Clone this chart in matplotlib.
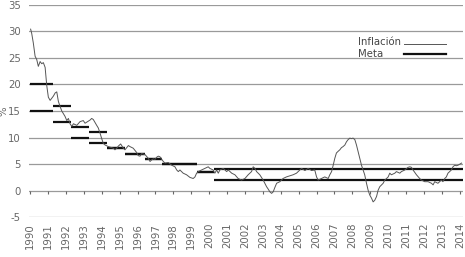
import matplotlib
matplotlib.use("Agg")
import matplotlib.pyplot as plt

plt.rcParams["font.family"] = ["DejaVu Sans"]

# inflation (12-month, %)
infl_year = [
    1990.03, 1990.09, 1990.18, 1990.28, 1990.37, 1990.46, 1990.56, 1990.65, 1990.74, 1990.84,
    1990.93, 1991.02, 1991.12, 1991.21, 1991.30, 1991.40, 1991.49, 1991.58, 1991.67, 1991.77,
    1991.86, 1991.95, 1992.05, 1992.14, 1992.23, 1992.33, 1992.42, 1992.61, 1992.79, 1992.97,
    1993.07, 1993.16, 1993.35, 1993.44, 1993.53, 1993.63, 1993.72, 1993.81, 1993.91, 1994.00,
    1994.09, 1994.19, 1994.37, 1994.46, 1994.65, 1994.74, 1994.84, 1994.93, 1995.06, 1995.21,
    1995.30, 1995.49, 1995.58, 1995.76, 1995.95, 1996.04, 1996.14, 1996.23, 1996.42, 1996.60,
    1996.70, 1996.79, 1996.88, 1996.98, 1997.07, 1997.16, 1997.25, 1997.44, 1997.53, 1997.72,
    1997.91, 1998.09, 1998.19, 1998.28, 1998.37, 1998.55, 1998.74, 1998.93, 1999.11, 1999.21,
    1999.30, 1999.39, 1999.58, 1999.77, 1999.95, 2000.04, 2000.23, 2000.32, 2000.42, 2000.51,
    2000.60, 2000.79, 2000.98, 2001.07, 2001.26, 2001.44, 2001.62, 2001.81, 2002.00, 2002.18,
    2002.37, 2002.46, 2002.56, 2002.65, 2002.83, 2003.02, 2003.11, 2003.21, 2003.30, 2003.39,
    2003.49, 2003.58, 2003.67, 2003.77, 2003.95, 2004.13, 2004.32, 2004.51, 2004.69, 2004.88,
    2005.07, 2005.16, 2005.35, 2005.53, 2005.72, 2005.90, 2006.00, 2006.09, 2006.28, 2006.46,
    2006.65, 2006.74, 2006.84, 2006.93, 2007.02, 2007.11, 2007.20, 2007.30, 2007.39, 2007.48,
    2007.58, 2007.67, 2007.76, 2007.86, 2007.95, 2008.04, 2008.14, 2008.23, 2008.32, 2008.42,
    2008.51, 2008.60, 2008.69, 2008.79, 2008.88, 2008.97, 2009.07, 2009.16, 2009.25, 2009.35,
    2009.44, 2009.53, 2009.63, 2009.72, 2009.81, 2009.91, 2010.00, 2010.09, 2010.18, 2010.37,
    2010.46, 2010.65, 2010.74, 2010.93, 2011.11, 2011.21, 2011.30, 2011.39, 2011.58, 2011.76,
    2011.86, 2012.04, 2012.23, 2012.42, 2012.51, 2012.60, 2012.78, 2012.97, 2013.06, 2013.16,
    2013.25, 2013.34, 2013.53, 2013.62, 2013.72, 2013.81, 2013.90, 2014.00, 2014.10,
]
infl_value = [
    30.4, 29.6, 27.8, 25.3, 24.7, 23.4, 24.3, 23.9, 24.1, 23.2,
    19.8, 17.6, 17.0, 17.4, 17.8, 18.4, 18.6, 16.8, 15.9, 15.0,
    14.5, 14.0, 13.2, 13.6, 12.6, 12.1, 12.6, 12.3, 13.0, 13.2,
    12.7, 12.9, 13.3, 13.6, 13.4, 12.8, 12.3, 11.8, 10.8, 9.8,
    8.9, 8.6, 8.3, 8.2, 8.0, 7.7, 8.0, 8.4, 8.8, 8.0,
    7.7, 8.5, 8.3, 8.0, 7.2, 6.6, 6.5, 7.0, 6.8, 6.1,
    5.5, 5.8, 6.0, 5.9, 6.3, 6.5, 6.4, 5.5, 5.2, 5.3,
    4.8, 4.5, 3.9, 3.6, 3.9, 3.3, 3.0, 2.5, 2.3, 2.6,
    3.3, 3.6, 3.9, 4.2, 4.5, 4.2, 3.9, 3.3, 3.9, 3.3,
    3.9, 4.2, 3.6, 3.9, 3.3, 3.0, 2.3, 2.0, 2.3, 3.0,
    3.6, 4.5, 4.2, 3.6, 3.0, 2.0, 1.4, 0.75, 0.3, -0.2,
    -0.5, -0.2, 0.6, 1.4, 1.7, 2.3, 2.6, 2.8, 3.0, 3.3,
    3.9, 4.2, 3.8, 4.2, 3.8, 3.9, 2.6, 2.0, 2.3, 2.6,
    2.3, 3.0, 3.6, 4.8, 6.1, 7.1, 7.4, 7.7, 8.1, 8.3,
    8.6, 9.2, 9.6, 9.9, 9.8, 9.9, 9.6, 8.6, 7.4, 6.1,
    4.8, 3.9, 3.0, 1.4, 0.1, -0.8, -1.4, -2.1, -1.8, -1.1,
    0.1, 0.75, 1.1, 1.4, 2.0, 2.3, 2.6, 3.3, 3.0, 3.3,
    3.6, 3.3, 3.6, 3.9, 4.4, 4.5, 4.4, 3.9, 3.0, 2.3,
    2.0, 1.7, 1.7, 1.4, 1.1, 1.7, 1.4, 2.0, 1.7, 2.3,
    2.6, 3.3, 3.9, 4.5, 4.8, 4.7, 4.8, 5.0, 5.2,
]

# inflation targets (Meta): each period has a lower and upper value
meta_start = [1990.0, 1991.3, 1992.3, 1993.3, 1994.3, 1995.3, 1996.4, 1997.35, 1999.3, 2000.3]
meta_end = [1991.3, 1992.3, 1993.3, 1994.3, 1995.3, 1996.4, 1997.35, 1999.3, 2000.3, 2014.17]
meta_low = [15, 13, 10, 9, 8, 7, 6, 5, 3.6, 2]
meta_high = [20, 16, 12, 11, 8, 7, 6, 5, 3.6, 4]

years = list(range(1990, 2015))
yticks = [-5, 0, 5, 10, 15, 20, 25, 30, 35]

fig = plt.figure(figsize=(4.65, 2.57), dpi=100)
ax = fig.add_axes([0.0624, 0.1545, 0.9333, 0.8272])

for v in yticks:
    ax.axhline(v, color="#9a9a9a", lw=0.9, zorder=1)
ax.plot(years, [0] * len(years), linestyle="none", marker=3, markersize=2.5,
        markeredgewidth=0.8, color="#666666", zorder=1)

ax.hlines(meta_low, meta_start, meta_end, color="#111111", lw=1.6, zorder=2)
ax.hlines(meta_high, meta_start, meta_end, color="#111111", lw=1.6, zorder=2)
ax.plot(infl_year, infl_value, color="#555555", lw=0.7, zorder=3)

ax.set_xlim(1989.94, 2014.18)
ax.set_ylim(-5, 35)
ax.set_yticks(yticks)
ax.set_yticklabels([str(v) for v in yticks])
ax.set_xticks(years)
ax.set_xticklabels([str(y) for y in years], rotation=90)
ax.tick_params(axis="both", length=0, labelsize=7.3, colors="#666666")
ax.tick_params(axis="y", pad=6)
ax.tick_params(axis="x", pad=4)
for s in ax.spines.values():
    s.set_visible(False)
ax.set_ylabel("%", fontsize=7.3, color="#666666")
ax.yaxis.set_label_coords(-0.047, 0.5)

# legend drawn by hand: labels left-aligned, line samples to their right
ax.text(0.758, 0.8245, "Inflación", transform=ax.transAxes, fontsize=7.3,
        color="#444444", va="center", ha="left")
ax.text(0.758, 0.770, "Meta", transform=ax.transAxes, fontsize=7.3,
        color="#444444", va="center", ha="left")
ax.plot([0.864, 0.961], [0.8175, 0.8175], transform=ax.transAxes, color="#555555", lw=0.7)
ax.plot([0.864, 0.961], [0.766, 0.766], transform=ax.transAxes, color="#111111", lw=1.6)

fig.savefig("out.png", dpi=100)
